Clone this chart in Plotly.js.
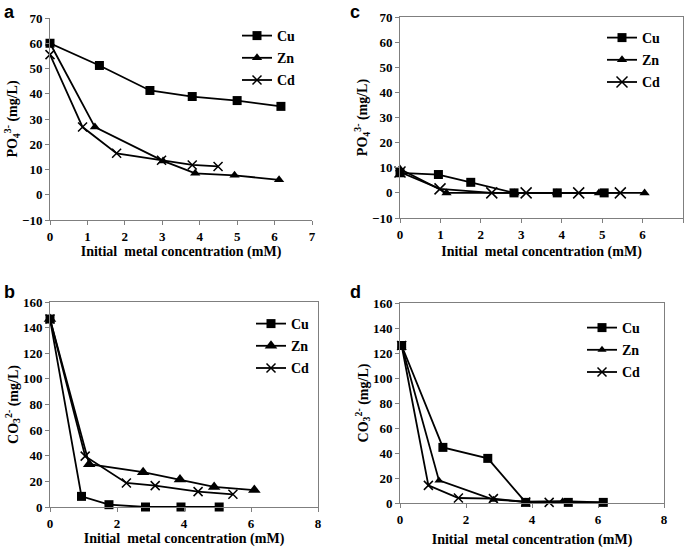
<!DOCTYPE html>
<html>
<head>
<meta charset="utf-8">
<script src="https://cdn.plot.ly/plotly-3.0.1.min.js"></script>
<style>html,body{margin:0;padding:0;background:#fff;}#chart{width:685px;height:551px;}</style>
</head>
<body>
<div id="chart"></div>
<script>
// ---- data ----
const metals = ["Cu", "Zn", "Cd"];

// panel a: PO4 3- (mg/L)
const aCuX = [0, 1.32, 2.67, 3.80, 5.00, 6.17];
const aCuY = [60, 51.2, 41.3, 38.9, 37.3, 35.0];
const aZnX = [0, 1.20, 3.02, 3.88, 4.93, 6.12];
const aZnY = [60, 26.8, 13.4, 8.5, 7.7, 5.9];
const aCdX = [0, 0.87, 1.78, 2.98, 3.80, 4.49];
const aCdY = [55.5, 26.8, 16.4, 13.7, 11.8, 11.2];

// panel c: PO4 3- (mg/L)
const cCuX = [0, 0.95, 1.75, 2.82, 3.89, 5.05];
const cCuY = [8.0, 7.3, 4.2, 0, 0, 0];
const cZnX = [0, 1.15, 2.83, 3.88, 4.92, 6.05];
const cZnY = [9.5, 0, 0, 0, 0, 0];
const cCdX = [0, 0.99, 2.27, 3.12, 4.42, 5.45];
const cCdY = [8.3, 1.6, 0, 0, 0, 0];

// panel b: CO3 2- (mg/L)
const bCuX = [0, 0.94, 1.76, 2.85, 3.91, 5.05];
const bCuY = [146.7, 8.3, 1.8, 0, 0, 0];
const bZnX = [0, 1.17, 2.78, 3.88, 4.90, 6.10];
const bZnY = [146.7, 33.4, 27.2, 21.4, 15.7, 13.2];
const bCdX = [0, 1.05, 2.28, 3.14, 4.42, 5.46];
const bCdY = [146.7, 39.7, 18.8, 16.7, 12.0, 9.9];

// panel d: CO3 2- (mg/L)
const dCuX = [0.05, 1.30, 2.66, 3.81, 5.10, 6.16];
const dCuY = [126, 44.5, 35.7, 0.5, 0.5, 0.5];
const dZnX = [0.05, 1.18, 2.83, 3.81, 4.93, 6.16];
const dZnY = [126, 18.1, 2.7, 1.0, 1.5, 0.5];
const dCdX = [0.05, 0.86, 1.77, 2.83, 3.81, 4.52];
const dCdY = [126, 14.1, 4.0, 3.5, 0.8, 0.5];

const xTitle = "Initial  metal concentration (mM)";
const yTitlePO4 = "PO<sub>4</sub><sup>3-</sup> (mg/L)";
const yTitleCO3 = "CO<sub>3</sub><sup>2-</sup> (mg/L)";
const panelLabels = ["a", "c", "b", "d"];

// ---- build ----
const W = 685, H = 551;
const serif = "Liberation Serif";
const symbols = {Cu: "square", Zn: "triangle-up", Cd: "x-thin"};

function trace(name, x, y, xa, ya, leg, size) {
  const isX = name === "Cd";
  return {
    type: "scatter", mode: "lines+markers", name: name, x: x, y: y,
    xaxis: xa, yaxis: ya, legend: leg, legendgroup: leg + name,
    line: {color: "#000", width: 1.8},
    marker: {symbol: symbols[name], size: size, color: "#000",
             line: {color: "#000", width: isX ? 1.5 : 0}},
    cliponaxis: false
  };
}

const data = [
  trace("Cu", aCuX, aCuY, "x", "y", "legend", 9),
  trace("Zn", aZnX, aZnY, "x", "y", "legend", 9),
  trace("Cd", aCdX, aCdY, "x", "y", "legend", 9),
  trace("Cu", cCuX, cCuY, "x2", "y2", "legend2", 9),
  trace("Zn", cZnX, cZnY, "x2", "y2", "legend2", 9),
  trace("Cd", cCdX, cCdY, "x2", "y2", "legend2", 11),
  trace("Cu", bCuX, bCuY, "x3", "y3", "legend3", 9),
  trace("Zn", bZnX, bZnY, "x3", "y3", "legend3", 11),
  trace("Cd", bCdX, bCdY, "x3", "y3", "legend3", 9),
  trace("Cu", dCuX, dCuY, "x4", "y4", "legend4", 9),
  trace("Zn", dZnX, dZnY, "x4", "y4", "legend4", 8),
  trace("Cd", dCdX, dCdY, "x4", "y4", "legend4", 9)
];

function px2x(p) { return p / W; }
function px2y(p) { return 1 - p / H; }

const tickFont = {family: serif, size: 13, color: "#000", weight: "bold"};
const titleFont = {family: serif, size: 14, color: "#000", weight: "bold"};

function xAxis(dom, range, dtick, anchor, mirror, standoff) {
  return {
    domain: [px2x(dom[0]), px2x(dom[1])], range: range, dtick: dtick, tick0: 0,
    anchor: anchor, showgrid: false, zeroline: false,
    showline: true, linecolor: "#7f7f7f", linewidth: 1, mirror: mirror,
    ticks: "outside", ticklen: 4, tickcolor: "#7f7f7f",
    tickfont: tickFont,
    title: {text: xTitle, font: titleFont, standoff: standoff}
  };
}
function yAxis(dom, range, dtick, anchor, mirror, title) {
  return {
    domain: [px2y(dom[1]), px2y(dom[0])], range: range, dtick: dtick, tick0: 0,
    anchor: anchor, showgrid: false, zeroline: false,
    showline: true, linecolor: "#7f7f7f", linewidth: 1, mirror: mirror,
    ticks: "outside", ticklen: 4, tickcolor: "#7f7f7f",
    tickfont: tickFont,
    title: {text: title, font: titleFont, standoff: 1}
  };
}

function legend(xpx, ypx) {
  return {
    x: px2x(xpx), y: px2y(ypx), xanchor: "left", yanchor: "top",
    xref: "paper", yref: "paper",
    bgcolor: "rgba(0,0,0,0)", borderwidth: 0,
    font: {family: serif, size: 14, color: "#000", weight: "bold"},
    tracegroupgap: 1, itemwidth: 30
  };
}

const layout = {
  width: W, height: H,
  margin: {l: 0, r: 0, t: 0, b: 0},
  paper_bgcolor: "#fff", plot_bgcolor: "#fff",
  showlegend: true,
  xaxis: xAxis([50, 312], [0, 7], 1, "y", false, 0),
  yaxis: yAxis([18, 220], [-10, 70], 10, "x", false, yTitlePO4),
  xaxis2: xAxis([400, 683], [0, 7], 1, "y2", true, 5),
  yaxis2: yAxis([17, 218], [-10, 70], 10, "x2", true, yTitlePO4),
  xaxis3: xAxis([50, 318], [0, 8], 2, "y3", true, 1),
  yaxis3: yAxis([302, 507], [0, 160], 20, "x3", true, yTitleCO3),
  xaxis4: xAxis([400, 664], [0, 8], 2, "y4", true, 8),
  yaxis4: yAxis([303, 503], [0, 160], 20, "x4", true, yTitleCO3),
  legend: legend(237, 20),
  legend2: legend(602, 22),
  legend3: legend(251, 308),
  legend4: legend(582, 312),
  annotations: [
    [2, 0], [348, 0], [2, 280], [348, 280]
  ].map((p, i) => ({
    text: panelLabels[i], xref: "paper", yref: "paper",
    x: px2x(p[0]), y: px2y(p[1]), xanchor: "left", yanchor: "top",
    showarrow: false,
    font: {family: "Liberation Sans", size: 18, color: "#000", weight: "bold"}
  }))
};

Plotly.newPlot("chart", data, layout, {displayModeBar: false, staticPlot: true});
</script>
</body>
</html>
